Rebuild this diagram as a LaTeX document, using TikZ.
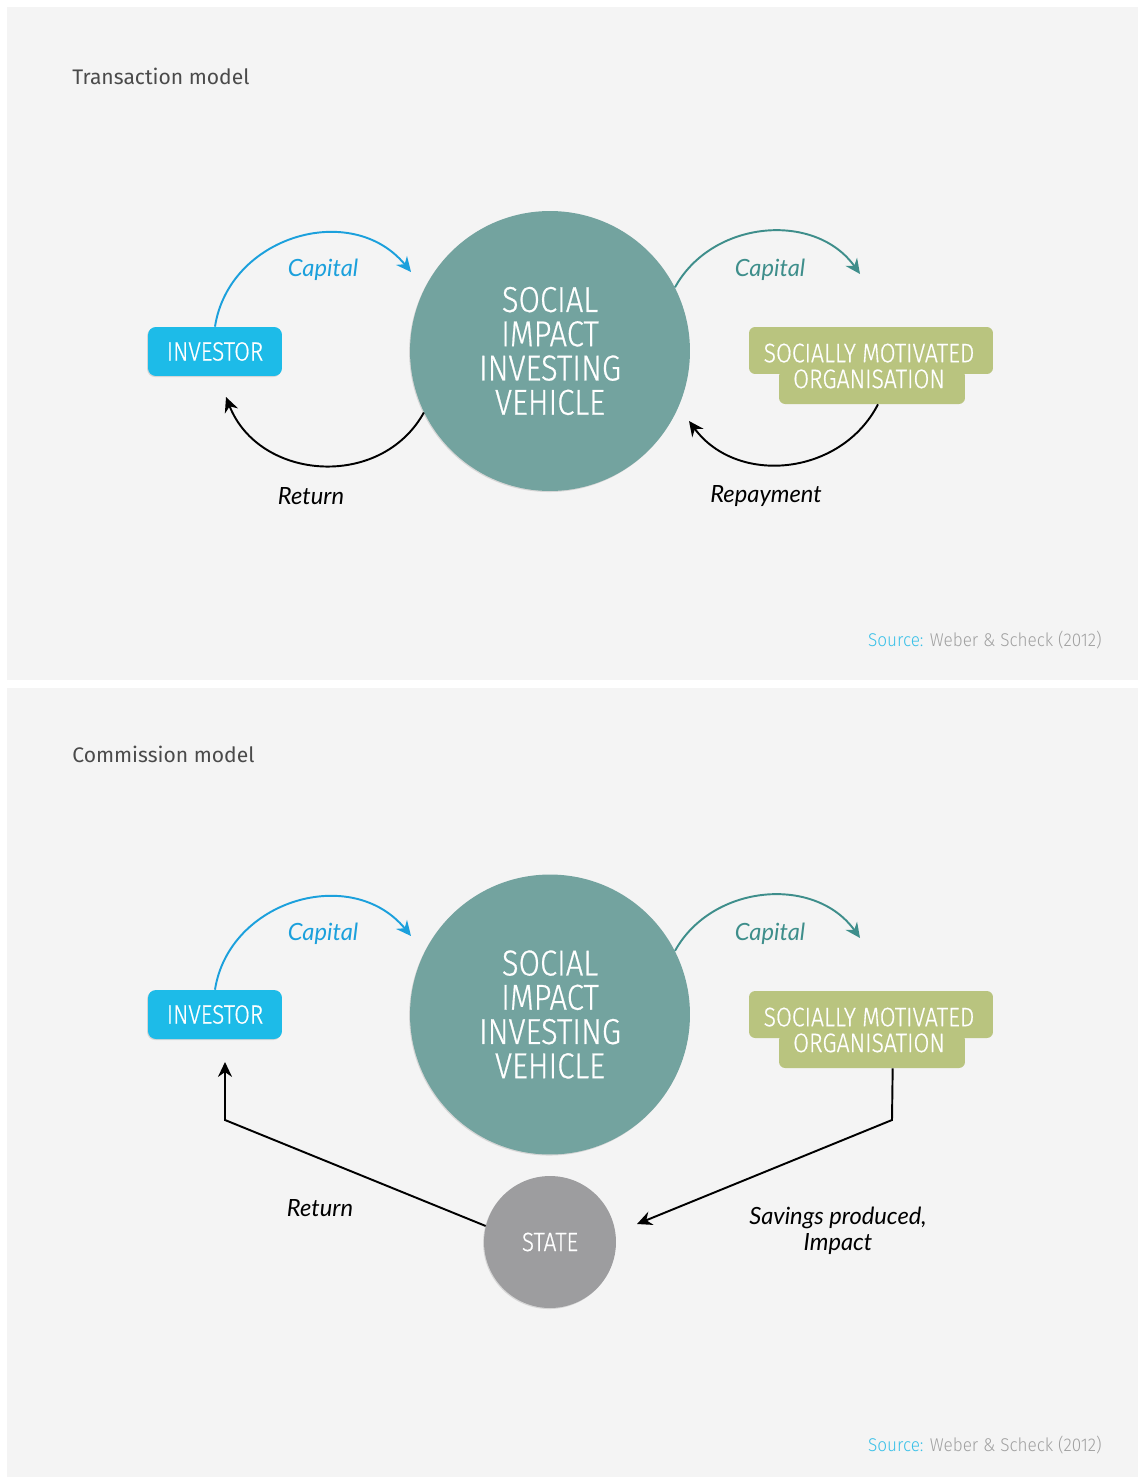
\documentclass[tikz,border=0pt]{standalone}
\usepackage{fontspec}
\setmainfont{Fira Sans}
\newfontfamily\dinfont[FakeStretch=0.86,FakeBold=0.6]{Fira Sans Light}
\newfontfamily\srcfont[FakeStretch=0.93]{Fira Sans Light}
\newfontfamily\latofont{Lato}
\usetikzlibrary{arrows.meta,shadows}

\definecolor{panelbg}{HTML}{F4F4F4}
\definecolor{vehiclecol}{HTML}{73A39F}
\definecolor{investorcol}{HTML}{1DBBE8}
\definecolor{orgcol}{HTML}{B9C47F}
\definecolor{statecol}{HTML}{9D9D9F}
\definecolor{capblue}{HTML}{1BA0DC}
\definecolor{capteal}{HTML}{3E8E8B}
\definecolor{titlegray}{HTML}{4A4A4A}
\definecolor{sourcecyan}{HTML}{38C0E8}
\definecolor{sourcegray}{HTML}{A0A0A0}

\tikzset{
  softshadow/.style={drop shadow={shadow xshift=-0.5pt,shadow yshift=-0.6pt,opacity=0.25}},
  vehiclenode/.style={circle,fill=vehiclecol,minimum size=5.6cm,inner sep=0pt,softshadow,
    text=white,align=center,font=\dinfont\fontsize{20.5}{19.5}\selectfont},
  statenode/.style={circle,fill=statecol,minimum size=2.64cm,inner sep=0pt,softshadow,
    text=white,font=\dinfont\fontsize{15}{15}\selectfont},
  investornode/.style={rectangle,rounded corners=4.5pt,fill=investorcol,softshadow,
    minimum width=2.68cm,minimum height=0.98cm,inner sep=0pt,
    text=white,font=\dinfont\fontsize{15}{15}\selectfont},
  orgtopnode/.style={rectangle,rounded corners=3.5pt,fill=orgcol,
    minimum width=4.88cm,minimum height=0.94cm,inner sep=0pt},
  orgbotnode/.style={rectangle,rounded corners=3.5pt,fill=orgcol,
    minimum width=3.72cm,minimum height=0.68cm,inner sep=0pt},
  orglabel/.style={text=white,align=center,inner sep=0pt,
    font=\dinfont\fontsize{15.2}{14.7}\selectfont},
  flowlabel/.style={font=\latofont\itshape\fontsize{13.5}{15}\selectfont,align=center},
  titletext/.style={anchor=base west,inner sep=0pt,text=titlegray,font=\fontsize{12}{14}\selectfont},
  sourcetext/.style={anchor=base east,inner sep=0pt,text=sourcegray,font=\srcfont\fontsize{10.5}{12}\selectfont},
  flow/.style={line width=1.1pt,-{Stealth[length=8.5pt,width=8pt,inset=2.8pt]}},
}

\begin{document}
\begin{tikzpicture}[x=0.02cm,y=-0.02cm]
  \useasboundingbox (0,0) rectangle (1138,1477);
  \fill[white] (0,0) rectangle (1138,1477);
  \fill[panelbg] (7,7) rectangle (1138,680);
  \fill[panelbg] (7,688) rectangle (1138,1477);

  % transaction model
  \node[titletext] (title1) at (72,85) {Transaction model};
  \node[vehiclenode] (vehicle) at (550,351) {SOCIAL\\IMPACT\\INVESTING\\VEHICLE};
  \node[investornode] (inv) at (215,351.5) {INVESTOR};
  \node[orgbotnode] (orgbot) at (872,387) {};
  \node[orgtopnode] (orgtop) at (871,350.5) {};
  \node[orglabel] (orgtext) at (869,366) {SOCIALLY MOTIVATED\\ORGANISATION};
  \coordinate (capa) at (411,272);
  \coordinate (capb) at (860,274);
  \coordinate (reta) at (226,397);
  \coordinate (repa) at (689,421);
  \draw[flow,capblue] (inv.north) .. controls (229,236) and (352,200) .. (capa);
  \draw[flow,capteal] (vehicle.27) .. controls (712,220) and (815,211) .. (capb);
  \draw[flow] (vehicle.206) .. controls (381,490) and (259,481) .. (reta);
  \draw[flow] (orgbot.-71) .. controls (841,476) and (737,486) .. (repa);
  \node[flowlabel,text=capblue] (capl1) at (323,270) {Capital};
  \node[flowlabel,text=capteal] (capl2) at (770,270) {Capital};
  \node[flowlabel] (retl) at (311,496) {Return};
  \node[flowlabel] (repl) at (766,496) {Repayment};
  \node[sourcetext] (src1) at (1102,646) {\textcolor{sourcecyan}{Source:} Weber \& Scheck (2012)};

  % commission model
  \node[titletext] (title2) at (72,762) {Commission model};
  \node[vehiclenode] (vehicle2) at (550,1014.5) {SOCIAL\\IMPACT\\INVESTING\\VEHICLE};
  \node[investornode] (inv2) at (215,1014.5) {INVESTOR};
  \node[orgbotnode] (orgbot2) at (872,1051) {};
  \node[orgtopnode] (orgtop2) at (871,1014.5) {};
  \node[orglabel] (orgtext2) at (869,1030) {SOCIALLY MOTIVATED\\ORGANISATION};
  \node[statenode] (state) at (550,1242) {STATE};
  \coordinate (capa2) at (411,936);
  \coordinate (capb2) at (860,938);
  \coordinate (retcorner) at (225,1120);
  \coordinate (retb) at (225,1062);
  \coordinate (savcorner) at (892,1120);
  \coordinate (savb) at (637,1224);
  \draw[flow,capblue] (inv2.north) .. controls (229,900) and (352,864) .. (capa2);
  \draw[flow,capteal] (vehicle2.27) .. controls (712,884) and (815,875) .. (capb2);
  \draw[flow] (state.166) -- (retcorner) -- (retb);
  \draw[flow] (orgbot2.-40) -- (savcorner) -- (savb);
  \node[flowlabel,text=capblue] (capl3) at (323,934) {Capital};
  \node[flowlabel,text=capteal] (capl4) at (770,934) {Capital};
  \node[flowlabel] (retl2) at (320,1208) {Return};
  \node[flowlabel] (savl) at (838,1231) {Savings produced,\\Impact};
  \node[sourcetext] (src2) at (1102,1451) {\textcolor{sourcecyan}{Source:} Weber \& Scheck (2012)};
\end{tikzpicture}
\end{document}
